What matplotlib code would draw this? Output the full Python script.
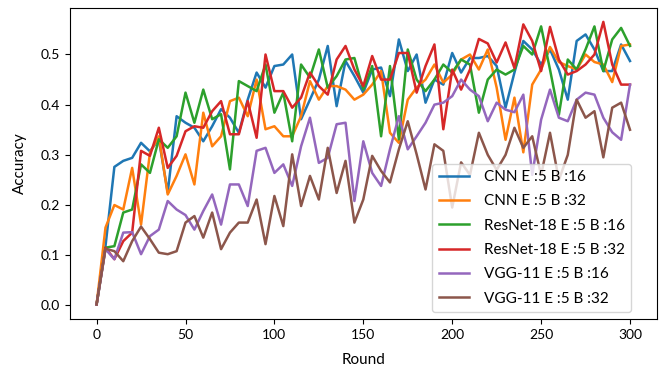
import numpy as np
import matplotlib
matplotlib.use("Agg")
import matplotlib.pyplot as plt

plt.rcParams['font.family'] = ['Lato', 'DejaVu Sans']

rounds = list(range(0, 301, 5))

cnn_b16 = [0.002, 0.118, 0.276, 0.288, 0.294, 0.324, 0.307, 0.331, 0.225, 0.377,
           0.364, 0.354, 0.327, 0.357, 0.391, 0.374, 0.344, 0.410, 0.464, 0.434,
           0.477, 0.480, 0.500, 0.371, 0.410, 0.450, 0.517, 0.397, 0.487, 0.457,
           0.424, 0.470, 0.474, 0.417, 0.530, 0.467, 0.500, 0.404, 0.450, 0.440,
           0.503, 0.464, 0.493, 0.493, 0.497, 0.477, 0.394, 0.464, 0.527, 0.510,
           0.480, 0.510, 0.470, 0.410, 0.527, 0.540, 0.510, 0.467, 0.467, 0.520,
           0.487]

cnn_b32 = [0.002, 0.155, 0.200, 0.191, 0.274, 0.161, 0.304, 0.337, 0.221, 0.258,
           0.301, 0.241, 0.384, 0.317, 0.337, 0.407, 0.414, 0.377, 0.450, 0.351,
           0.357, 0.337, 0.337, 0.377, 0.447, 0.410, 0.437, 0.437, 0.430, 0.410,
           0.420, 0.440, 0.467, 0.344, 0.324, 0.410, 0.434, 0.450, 0.480, 0.444,
           0.460, 0.490, 0.500, 0.470, 0.510, 0.434, 0.330, 0.414, 0.305, 0.440,
           0.470, 0.515, 0.485, 0.477, 0.470, 0.500, 0.485, 0.480, 0.445, 0.517,
           0.520]

resnet_b16 = [0.002, 0.115, 0.118, 0.185, 0.191, 0.281, 0.264, 0.331, 0.314, 0.337,
              0.424, 0.364, 0.430, 0.371, 0.381, 0.271, 0.447, 0.437, 0.427, 0.480,
              0.384, 0.424, 0.327, 0.480, 0.454, 0.510, 0.434, 0.457, 0.490, 0.493,
              0.430, 0.477, 0.337, 0.477, 0.331, 0.510, 0.450, 0.427, 0.450, 0.480,
              0.464, 0.490, 0.480, 0.384, 0.450, 0.470, 0.460, 0.470, 0.517, 0.500,
              0.556, 0.470, 0.380, 0.490, 0.470, 0.510, 0.556, 0.467, 0.530, 0.553,
              0.517]

resnet_b32 = [0.002, 0.115, 0.092, 0.128, 0.145, 0.308, 0.298, 0.354, 0.274, 0.298,
              0.347, 0.357, 0.354, 0.387, 0.407, 0.341, 0.341, 0.407, 0.334, 0.500,
              0.427, 0.427, 0.394, 0.414, 0.464, 0.437, 0.420, 0.490, 0.517, 0.470,
              0.437, 0.497, 0.450, 0.450, 0.503, 0.503, 0.424, 0.477, 0.520, 0.351,
              0.470, 0.430, 0.470, 0.531, 0.522, 0.484, 0.524, 0.473, 0.560, 0.527,
              0.467, 0.555, 0.490, 0.460, 0.467, 0.480, 0.500, 0.565, 0.480, 0.440,
              0.440]

vgg_b16 = [0.002, 0.112, 0.092, 0.145, 0.146, 0.102, 0.138, 0.151, 0.208, 0.191,
           0.180, 0.151, 0.188, 0.221, 0.161, 0.241, 0.241, 0.198, 0.308, 0.314,
           0.264, 0.281, 0.238, 0.317, 0.374, 0.284, 0.294, 0.361, 0.364, 0.208,
           0.327, 0.264, 0.238, 0.311, 0.377, 0.311, 0.337, 0.364, 0.400, 0.404,
           0.417, 0.450, 0.430, 0.417, 0.367, 0.404, 0.390, 0.385, 0.420, 0.260,
           0.370, 0.430, 0.374, 0.367, 0.410, 0.424, 0.420, 0.374, 0.345, 0.330,
           0.440]

vgg_b32 = [0.002, 0.113, 0.108, 0.088, 0.128, 0.157, 0.132, 0.105, 0.102, 0.108,
           0.165, 0.178, 0.135, 0.185, 0.112, 0.145, 0.165, 0.165, 0.211, 0.122,
           0.218, 0.158, 0.301, 0.198, 0.258, 0.211, 0.314, 0.224, 0.288, 0.165,
           0.211, 0.298, 0.268, 0.245, 0.311, 0.367, 0.301, 0.231, 0.321, 0.308,
           0.195, 0.285, 0.260, 0.344, 0.300, 0.270, 0.300, 0.354, 0.314, 0.337,
           0.260, 0.344, 0.250, 0.300, 0.410, 0.374, 0.387, 0.295, 0.394, 0.404,
           0.350]

series = [
    ("CNN E :5 B :16", cnn_b16),
    ("CNN E :5 B :32", cnn_b32),
    ("ResNet-18 E :5 B :16", resnet_b16),
    ("ResNet-18 E :5 B :32", resnet_b32),
    ("VGG-11 E :5 B :16", vgg_b16),
    ("VGG-11 E :5 B :32", vgg_b32),
]

fig = plt.figure(figsize=(6.66, 3.73), dpi=100)
ax = fig.add_axes([0.105, 0.145, 0.881, 0.834])

for label, vals in series:
    ax.plot(rounds, vals, linewidth=1.8, label=label)

ax.set_xlim(-15, 315)
ax.set_ylim(-0.027, 0.593)
ax.set_xticks([0, 50, 100, 150, 200, 250, 300])
ax.set_yticks([0.0, 0.1, 0.2, 0.3, 0.4, 0.5])
ax.tick_params(labelsize=10)
ax.set_xlabel("Round", fontsize=11, labelpad=9)
ax.set_ylabel("Accuracy", fontsize=11, labelpad=10)

ax.legend(loc="lower right", bbox_to_anchor=(0.957, 0.0225), borderaxespad=0,
          fontsize=11, labelspacing=0.68, handletextpad=1.0)

fig.savefig("out.png", dpi=100)
